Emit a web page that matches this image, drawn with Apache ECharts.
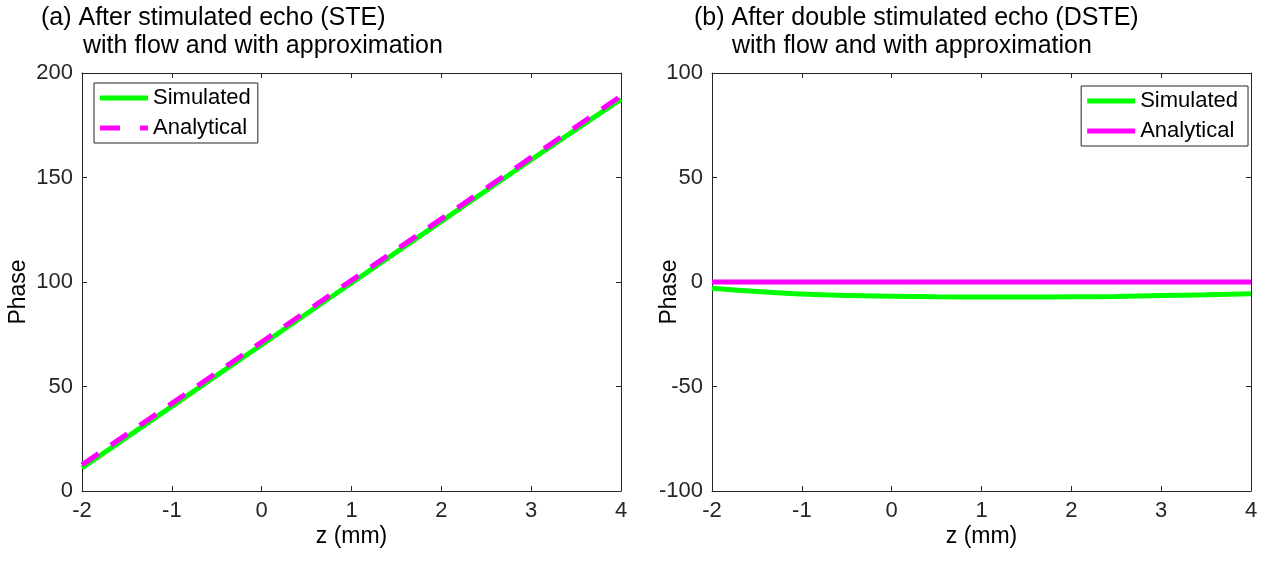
<!DOCTYPE html>
<html>
<head>
<meta charset="utf-8">
<script src="https://cdn.jsdelivr.net/npm/echarts@6/dist/echarts.min.js"></script>
<style>
html,body{margin:0;padding:0;background:#fff;}
#c{width:1273px;height:563px;}
</style>
</head>
<body>
<div id="c"></div>
<script>
// ---- data ----
const zValues = [-2, -1.5, -1, -0.5, 0, 0.5, 1, 1.5, 2, 2.5, 3, 3.5, 4];
const steSimulated = [11, 25.8, 40.5, 55.3, 70, 84.8, 99.5, 114.3, 129, 143.8, 158.5, 173, 187.5];
const steAnalytical = [12.5, 27.2, 41.9, 56.6, 71.3, 86, 100.8, 115.5, 130.2, 144.9, 159.6, 174.3, 189];
const dsteSimulated = [-3.0, -4.6, -5.7, -6.4, -6.8, -7.1, -7.2, -7.2, -7.1, -6.9, -6.5, -6.1, -5.6];
const dsteAnalytical = [0, 0, 0, 0, 0, 0, 0, 0, 0, 0, 0, 0, 0];
const xTicks = [-2, -1, 0, 1, 2, 3, 4];
const yTicksA = [0, 50, 100, 150, 200];
const yTicksB = [-100, -50, 0, 50, 100];
const titleA = ['(a) After stimulated echo (STE)', 'with flow and with approximation'];
const titleB = ['(b) After double stimulated echo (DSTE)', 'with flow and with approximation'];
const seriesNames = ['Simulated', 'Analytical'];
const xName = 'z (mm)';
const yName = 'Phase';

// ---- styling ----
const FONT = '"Liberation Sans", Arial, Helvetica, sans-serif';
const AX = '#262626';
const GREEN = '#00ff00';
const MAGENTA = '#ff00ff';
const ICON_SOLID = 'path://M0,0H48V5H0Z';
const ICON_DASH = 'path://M0,0H20V5H0Z M40,0H48V5H40Z';

function pair(xs, ys) { return xs.map((x, i) => [x, ys[i]]); }

function xAxisPair(gridIndex) {
  const base = {
    type: 'value', gridIndex, min: xTicks[0], max: xTicks[xTicks.length - 1], interval: 1,
    axisLine: { show: true, onZero: false, lineStyle: { color: AX, width: 1 } },
    axisTick: { show: true, inside: true, length: 5, lineStyle: { color: AX } },
    splitLine: { show: false }
  };
  return [
    Object.assign({}, base, {
      position: 'bottom',
      axisLabel: { color: AX, fontSize: 22, fontFamily: FONT, margin: 9 },
      name: xName, nameLocation: 'middle', nameGap: 34, nameMoveOverlap: false,
      nameTextStyle: { color: '#000', fontSize: 23, fontFamily: FONT }
    }),
    Object.assign({}, base, { position: 'top', axisLabel: { show: false } })
  ];
}
function yAxisPair(gridIndex, ticks, nameGap) {
  const base = {
    type: 'value', gridIndex, min: ticks[0], max: ticks[ticks.length - 1], interval: 50,
    axisLine: { show: true, onZero: false, lineStyle: { color: AX, width: 1 } },
    axisTick: { show: true, inside: true, length: 5, lineStyle: { color: AX } },
    splitLine: { show: false }
  };
  return [
    Object.assign({}, base, {
      position: 'left',
      axisLabel: { color: AX, fontSize: 22, fontFamily: FONT, margin: 9 },
      name: yName, nameLocation: 'middle', nameGap, nameMoveOverlap: false,
      nameTextStyle: { color: '#000', fontSize: 23, fontFamily: FONT, padding: [0, 20, 0, 0] }
    }),
    Object.assign({}, base, { position: 'right', axisLabel: { show: false } })
  ];
}

const titleStyle = { color: '#000', fontSize: 25, fontWeight: 'normal', fontFamily: FONT };
const legendBase = {
  orient: 'vertical', itemWidth: 48, itemHeight: 5, itemGap: 8,
  borderColor: AX, borderWidth: 1, backgroundColor: '#fff',
  textStyle: { color: '#000', fontSize: 22, fontFamily: FONT },
  selectedMode: false
};

const option = {
  animation: false,
  backgroundColor: '#fff',
  title: [
    { text: titleA[0], left: 41, top: 6, padding: 0, textStyle: titleStyle },
    { text: titleA[1], left: 83, top: 34, padding: 0, textStyle: titleStyle },
    { text: titleB[0], left: 694, top: 6, padding: 0, textStyle: titleStyle },
    { text: titleB[1], left: 732, top: 34, padding: 0, textStyle: titleStyle }
  ],
  grid: [
    { left: 82, right: 652, top: 73, bottom: 72, show: false },
    { left: 712, right: 22, top: 73, bottom: 72, show: false }
  ],
  xAxis: [].concat(xAxisPair(0), xAxisPair(1)),
  yAxis: [].concat(yAxisPair(0, yTicksA, 52), yAxisPair(1, yTicksB, 31)),
  legend: [
    Object.assign({}, legendBase, {
      left: 94, top: 83, padding: [4, 7, 4, 6],
      data: [
        { name: seriesNames[0], icon: ICON_SOLID, itemStyle: { color: GREEN } },
        { name: seriesNames[1], icon: ICON_DASH, itemStyle: { color: MAGENTA } }
      ]
    }),
    Object.assign({}, legendBase, {
      right: 25, top: 86, padding: [4, 10, 4, 6],
      data: [
        { name: seriesNames[0], icon: ICON_SOLID, itemStyle: { color: GREEN } },
        { name: seriesNames[1], icon: ICON_SOLID, itemStyle: { color: MAGENTA } }
      ]
    })
  ],
  series: [
    {
      name: seriesNames[0], type: 'line', xAxisIndex: 0, yAxisIndex: 0,
      data: pair(zValues, steSimulated), symbol: 'none',
      lineStyle: { color: GREEN, width: 5 }, itemStyle: { color: GREEN }
    },
    {
      name: seriesNames[1], type: 'line', xAxisIndex: 0, yAxisIndex: 0,
      data: pair(zValues, steAnalytical), symbol: 'none',
      lineStyle: { color: MAGENTA, width: 5, type: [20, 15], cap: 'butt' }, itemStyle: { color: MAGENTA }
    },
    {
      name: seriesNames[0], type: 'line', xAxisIndex: 2, yAxisIndex: 2,
      data: pair(zValues, dsteSimulated), symbol: 'none', smooth: true,
      lineStyle: { color: GREEN, width: 5 }, itemStyle: { color: GREEN }
    },
    {
      name: seriesNames[1], type: 'line', xAxisIndex: 2, yAxisIndex: 2,
      data: pair(zValues, dsteAnalytical), symbol: 'none',
      lineStyle: { color: MAGENTA, width: 5 }, itemStyle: { color: MAGENTA }
    }
  ]
};

const chart = echarts.init(document.getElementById('c'), null, { renderer: 'canvas' });
chart.setOption(option);
</script>
</body>
</html>
